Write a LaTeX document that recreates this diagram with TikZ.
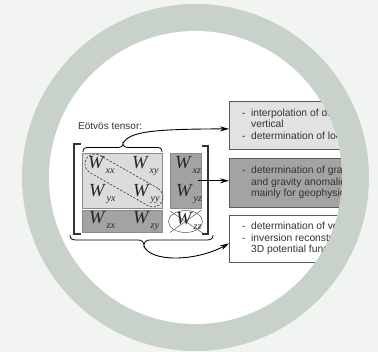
\documentclass[tikz,border=0pt]{standalone}
\usepackage{fontspec}
\setmainfont{Liberation Sans}
\newfontfamily\timesf{Liberation Serif}
\usetikzlibrary{arrows.meta,shapes.geometric}
\definecolor{bgc}{HTML}{F2F4F1}
\definecolor{ringc}{HTML}{C8D2CB}
\definecolor{lightbox}{HTML}{DCDCDC}
\definecolor{topbox}{HTML}{E2E2E2}
\definecolor{darkbox}{HTML}{A3A3A3}
\definecolor{boxline}{HTML}{5A5A5A}
\definecolor{mline}{HTML}{8A8A8A}
\definecolor{txtc}{HTML}{333333}
\definecolor{greenc}{HTML}{4E7A67}
\newcommand\Wlab[1]{{\timesf\itshape\fontsize{18.5}{18.5}\selectfont W\kern2pt\raisebox{-5pt}{\fontsize{10}{10}\selectfont #1}}}
\begin{document}
\begin{tikzpicture}[x=1pt,y=-1pt,
  tbox/.style={draw=boxline, line width=0.8pt, minimum width=200pt, anchor=north west, inner sep=0pt},
  btext/.style={anchor=west, inner sep=0pt, text=txtc, font=\fontsize{10.3}{11.6}\selectfont},
  mbox/.style={draw=mline, line width=0.6pt, anchor=north west, inner sep=0pt},
  wlab/.style={anchor=base west, inner sep=0pt, text=black!85},
  conn/.style={line width=0.9pt, -{Stealth[length=9pt,width=5pt]}},
  bracketline/.style={line width=1.1pt, black!80},
  braceline/.style={line width=0.8pt, black}]
\useasboundingbox (0,0) rectangle (378,352);
\fill[bgc] (0,0) rectangle (378,352);
\node[anchor=north west, inner sep=0pt, text=greenc, font=\bfseries\fontsize{22}{22}\selectfont] (logo) at (-2,353) {DE};
\fill[ringc] (195.5,177.5) circle (173.5pt);
\fill[white] (195.5,177.5) circle (146.5pt);
\begin{scope}
\clip (195.5,177.5) circle (146.5pt);
% right text boxes
\node[tbox, fill=topbox, minimum height=48pt] (box1) at (229,101) {};
\node[tbox, fill=darkbox, minimum height=49pt] (box2) at (229,158) {};
\node[tbox, fill=white, minimum height=47pt] (box3) at (229,215) {};
\node[btext] (t1) at ([xshift=13pt]box1.west) {\begin{tabular}{@{}l@{\hspace{5.5pt}}l@{}}- & interpolation of deflection\\ & vertical\\- & determination of local geoid\end{tabular}};
\node[btext] (t2) at ([xshift=13pt]box2.west) {\begin{tabular}{@{}l@{\hspace{5.5pt}}l@{}}- & determination of gravity\\ & and gravity anomalies\\ & mainly for geophysics\end{tabular}};
\node[btext] (t3) at ([xshift=13pt]box3.west) {\begin{tabular}{@{}l@{\hspace{5.5pt}}l@{}}- & determination of vertical\\- & inversion reconstruction\\ & 3D potential function\end{tabular}};
% title
\node[anchor=base west, inner sep=0pt, text=txtc, font=\fontsize{10}{11}\selectfont] (title) at (78,129.5) {Eötvös tensor:};
% matrix boxes
\node[mbox, fill=lightbox, minimum width=80pt, minimum height=55pt] (tl) at (82,153) {};
\node[mbox, fill=darkbox, minimum width=80pt, minimum height=22pt] (zrow) at (82,210) {};
\node[mbox, fill=darkbox, minimum width=31pt, minimum height=55pt] (col) at (170,153) {};
\node[ellipse, draw=black!65, line width=0.5pt, minimum width=34pt, minimum height=22pt, inner sep=0pt] (zz) at (185.5,221.5) {};
\draw[black!65, line width=0.5pt] ([shift={(-15.5pt,10.5pt)}]zz.center) -- ([shift={(17pt,-11.5pt)}]zz.center);
\draw[black!65, line width=0.5pt] ([shift={(-15.5pt,-11pt)}]zz.center) -- ([shift={(16pt,11.5pt)}]zz.center);
% dashed diagonal
\node[draw=black!80, line width=0.6pt, dash pattern=on 2.2pt off 1.6pt, rounded corners=10pt, minimum width=87pt, minimum height=20pt, rotate=-29.6, inner sep=0pt] (diag) at (124,180.5) {};
% labels
\node[wlab] (wxx) at (88,169) {\Wlab{xx}};
\node[wlab] (wxy) at (132,169) {\Wlab{xy}};
\node[wlab] (wxz) at (175,169) {\Wlab{xz}};
\node[wlab] (wyx) at (89,197) {\Wlab{yx}};
\node[wlab] (wyy) at (133,197) {\Wlab{yy}};
\node[wlab] (wyz) at (176,197) {\Wlab{yz}};
\node[wlab] (wzx) at (89,224) {\Wlab{zx}};
\node[wlab] (wzy) at (133,224) {\Wlab{zy}};
\node[wlab] (wzz) at (176,225) {\Wlab{zz}};
% brackets
\draw[bracketline] (81,144) -- (74,144) -- (74,234) -- (81,234);
\draw[bracketline] (202,146) -- (208,146) -- (208,234) -- (202,234);
% braces
\coordinate (tbt) at (123,143);
\coordinate (bbt) at (144,246);
\draw[braceline] (83,152) .. controls (83,148) and (85,147.5) .. (89,147.5) -- (117,147.5) .. controls (121,147.5) and (123,146.5) .. (tbt) .. controls (123,146.5) and (125,147.5) .. (129,147.5) -- (156,147.5) .. controls (160,147.5) and (162,148) .. (162,152);
\draw[braceline] (70,235) .. controls (70,238.5) and (72,240) .. (76,240) -- (138,240) .. controls (142,240) and (144,242) .. (bbt) .. controls (144,242) and (146,240) .. (150,240) -- (207,240) .. controls (211,240) and (213,238.5) .. (213,235);
% connectors
\draw[conn] (tbt) .. controls (130,132) and (150,129) .. ([yshift=-3.5pt]box1.west);
\draw[conn] ([xshift=-4pt]col.east) -- (col.east -| box2.west);
\draw[conn] (bbt) .. controls (150,262) and (195,262) .. ([yshift=-4.5pt]box3.west);
\end{scope}
\end{tikzpicture}
\end{document}
